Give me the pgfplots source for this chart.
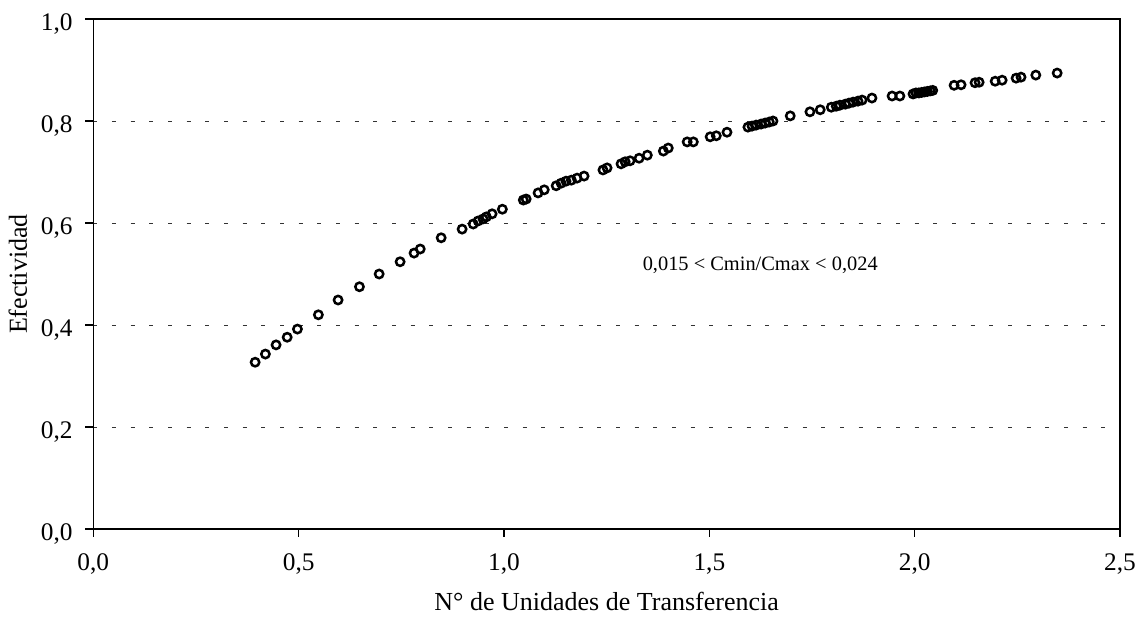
\documentclass[border=0pt]{standalone}
\usepackage{pgfplots}
\pgfplotsset{compat=1.18}
\usepackage{fontspec}
\setmainfont{Liberation Serif}
\begin{document}
\fontsize{13}{15}\selectfont
\begin{tikzpicture}
\path[use as bounding box] (-70pt,-66pt) rectangle (786.5pt,396.75pt);
\begin{axis}[
  scale only axis,
  width=770pt, height=382.5pt,
  xmin=0, xmax=2.5, ymin=0, ymax=1,
  xtick={0,0.5,...,2.5}, ytick={0,0.2,...,1.0},
  /pgf/number format/.cd, use comma, fixed, fixed zerofill, precision=1, assume math mode=true,
  /pgfplots/.cd,
  tick align=outside, major tick length=6pt,
  xtick pos=bottom, ytick pos=left,
  tick style={black, line width=0.8pt},
  axis line style={line width=1.2pt},
  ymajorgrids,
  grid style={dash pattern=on 3pt off 11pt, black!80, line width=0.6pt},
  ticklabel style={font=\fontsize{19}{22}\selectfont},
  yticklabel style={xshift=-5pt, yshift=-3.5pt},
  xticklabel style={yshift=-8pt},
  xlabel={N° de Unidades de Transferencia},
  ylabel={Efectividad},
  label style={font=\fontsize{19.5}{22}\selectfont},
  xlabel style={at={(axis description cs:0.5,0)}, anchor=north, yshift=-43pt},
  ylabel style={yshift=1.5pt},
]
\addplot[only marks, mark=o, mark size=3.1pt, mark options={line width=1.9pt, black}] coordinates {
(0.394,0.327) (0.419,0.343) (0.445,0.361) (0.472,0.376) (0.497,0.392)
(0.548,0.420) (0.596,0.449) (0.648,0.475) (0.696,0.500) (0.747,0.524)
(0.781,0.541) (0.796,0.549) (0.847,0.571) (0.898,0.588) (0.925,0.598)
(0.937,0.604) (0.949,0.608) (0.957,0.612) (0.971,0.618) (0.996,0.627)
(1.047,0.645) (1.054,0.647) (1.083,0.659) (1.098,0.665) (1.127,0.673)
(1.139,0.678) (1.151,0.682) (1.164,0.684) (1.178,0.688) (1.195,0.692)
(1.241,0.704) (1.251,0.708) (1.285,0.716) (1.295,0.720) (1.307,0.722)
(1.329,0.727) (1.349,0.733) (1.388,0.741) (1.400,0.747) (1.446,0.759)
(1.461,0.759) (1.502,0.769) (1.517,0.771) (1.543,0.778) (1.594,0.788)
(1.604,0.790) (1.614,0.792) (1.626,0.794) (1.636,0.796) (1.646,0.798)
(1.655,0.800) (1.697,0.810) (1.745,0.818) (1.770,0.822) (1.797,0.827)
(1.809,0.829) (1.818,0.831) (1.831,0.833) (1.840,0.835) (1.850,0.837)
(1.862,0.839) (1.872,0.841) (1.896,0.845) (1.945,0.849) (1.964,0.849)
(1.996,0.853) (2.003,0.855) (2.010,0.855) (2.017,0.856) (2.024,0.857)
(2.031,0.858) (2.038,0.859) (2.044,0.860) (2.096,0.870) (2.113,0.871)
(2.147,0.875) (2.157,0.876) (2.196,0.878) (2.213,0.880) (2.247,0.884)
(2.259,0.886) (2.295,0.890) (2.347,0.894)
};
\node[font=\fontsize{15.3}{17}\selectfont] at (axis cs:1.624,0.518) {0,015 < Cmin/Cmax < 0,024};
\end{axis}
\end{tikzpicture}
\end{document}
